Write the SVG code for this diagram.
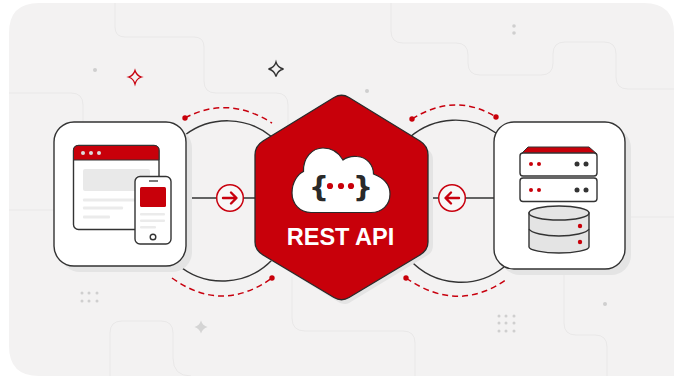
<svg xmlns="http://www.w3.org/2000/svg" width="674" height="376" viewBox="0 0 674 376">
<defs>
<style>
.grid{fill:none;stroke:#e9e8e8;stroke-width:1}
.dot{fill:#cfcfcf}
.ink{stroke:#333;stroke-width:1.4}
.wire{fill:none;stroke:#333;stroke-width:1.4}
.dash{fill:none;stroke:#c8000e;stroke-width:1.5;stroke-dasharray:6 4}
.red{fill:#c8000a}
.arrow{fill:none;stroke:#c8000e;stroke-width:2.4;stroke-linecap:round;stroke-linejoin:round}
.bar{fill:#ebebeb}
.shadow{fill:#e4e4e4}
</style>
</defs>
<rect width="674" height="376" fill="#fff"/>
<path d="M39 3H644Q674 3 674 33V376H39Q9 376 9 346V33Q9 3 39 3Z" fill="#f3f2f2"/>
<g id="background">
<path class="grid" d="M115 3V27Q115 37 125 37H194Q204 37 204 47V81Q204 93 216 93H276Q288 93 288 105V130"/>
<path class="grid" d="M9 93H71Q83 93 83 105V122"/>
<path class="grid" d="M9 210H54"/>
<path class="grid" d="M391 3V31Q391 43 403 43H456Q468 43 468 55V63Q468 75 480 75H541Q553 75 553 63V54Q553 42 565 42H604Q616 42 616 54V77Q616 89 628 89H674"/>
<path class="grid" d="M625 217H674"/>
<path class="grid" d="M564 272V323Q564 335 576 335H595Q607 335 607 347V376"/>
<path class="grid" d="M337 331H403Q415 331 415 343V376"/>
<path class="grid" d="M110 376V333Q110 321 122 321H161Q173 321 173 333V358Q173 376 191 376"/>
<path class="grid" d="M292 277V318Q292 331 305 331H337"/>
<circle class="dot" cx="95" cy="70" r="2"/>
<circle class="dot" cx="514" cy="26" r="1.8"/>
<circle class="dot" cx="514" cy="33" r="1.8"/>
<circle class="dot" cx="367" cy="91" r="2"/>
<circle class="dot" cx="605" cy="304" r="2"/>
<g class="dot"><circle cx="82" cy="293" r="1.5"/><circle cx="89" cy="293" r="1.5"/><circle cx="97" cy="293" r="1.5"/><circle cx="82" cy="301" r="1.5"/><circle cx="89" cy="301" r="1.5"/><circle cx="97" cy="301" r="1.5"/></g>
<g class="dot"><circle cx="499" cy="316" r="1.5"/><circle cx="506" cy="316" r="1.5"/><circle cx="514" cy="316" r="1.5"/><circle cx="499" cy="323" r="1.5"/><circle cx="506" cy="323" r="1.5"/><circle cx="514" cy="323" r="1.5"/><circle cx="499" cy="331" r="1.5"/><circle cx="506" cy="331" r="1.5"/><circle cx="514" cy="331" r="1.5"/></g>
<path d="M135 70.500Q136.500 75.500 141.500 77Q136.500 78.500 135 84Q133.500 78.500 128.500 77Q133.500 75.500 135 70.500Z" fill="none" stroke="#c8000e" stroke-width="1.300"/>
<path d="M276 62Q277.500 67.500 283.500 69Q277.500 70.500 276 76.500Q274.500 70.500 268.500 69Q274.500 67.500 276 62Z" fill="none" stroke="#333" stroke-width="1.300"/>
<path d="M201 320.500Q202.500 325.500 207.500 327Q202.500 328.500 201 333.500Q199.500 328.500 194.500 327Q199.500 325.500 201 320.500Z" fill="#d4d4d4"/>
</g>
<g id="connectors">
<path class="wire" d="M185 135A70 70 0 0 1 272 137"/>
<path class="wire" d="M177 264A69 69 0 0 0 272 260"/>
<path class="wire" d="M410 137A70 70 0 0 1 496 133"/>
<path class="wire" d="M410 260A69 69 0 0 0 504 267"/>
<path class="dash" d="M185 118Q228 95 272 123"/>
<path class="dash" d="M172 278Q222 314 272 278"/>
<path class="dash" d="M412 119Q455 92 496 117"/>
<path class="dash" d="M406 278Q458 314 507 279"/>
<g class="red"><circle cx="185" cy="118" r="2.700"/><circle cx="272" cy="278" r="2.700"/><circle cx="412" cy="119" r="2.700"/><circle cx="496" cy="117" r="2.700"/><circle cx="406" cy="278" r="2.700"/></g>
<path class="wire" d="M186 198H256"/>
<path class="wire" d="M427 198H494"/>
<circle cx="230" cy="198" r="13.300" fill="#f8f7f7" stroke="#c8000e" stroke-width="1.500"/>
<path class="arrow" d="M223 198H236M231 192.500L236.500 198L231 203.500"/>
<circle cx="452" cy="198" r="13.300" fill="#f8f7f7" stroke="#c8000e" stroke-width="1.500"/>
<path class="arrow" d="M459 198H446M451 192.500L445.500 198L451 203.500"/>
</g>
<g id="client">
<rect class="shadow" x="60" y="128" width="132" height="144" rx="20"/>
<rect x="54" y="122" width="132" height="144" rx="20" fill="#fff" class="ink"/>
<rect x="73.500" y="145.500" width="85.500" height="84" rx="5" fill="#fff" class="ink"/>
<path class="red" d="M78.500 145.500H154Q159 145.500 159 150.500V160H73.500V150.500Q73.500 145.500 78.500 145.500Z" stroke="#333" stroke-width="1"/>
<g fill="#ddd"><circle cx="83" cy="153" r="2"/><circle cx="91" cy="153" r="2"/><circle cx="99" cy="153" r="2"/></g>
<rect x="83" y="169" width="67" height="22" rx="2" fill="#e9e9e9"/>
<rect class="bar" x="83" y="198.500" width="52" height="3" rx="1"/>
<rect class="bar" x="83" y="206.500" width="40" height="3" rx="1"/>
<rect class="bar" x="83" y="215.500" width="27" height="3" rx="1"/>
<rect x="135" y="176.500" width="36" height="67.500" rx="5" fill="#fff" class="ink"/>
<path d="M149 181H158" stroke="#333" stroke-width="1.300"/>
<rect class="red" x="140" y="187" width="26" height="20" rx="1.500"/>
<rect class="bar" x="140" y="213" width="25" height="2.500" rx="1"/>
<rect class="bar" x="140" y="219.500" width="25" height="2.500" rx="1"/>
<rect class="bar" x="140" y="226" width="16" height="2.500" rx="1"/>
<circle cx="153" cy="237" r="2.800" fill="#fff" class="ink"/>
</g>
<g id="api">
<path class="shadow" d="M349 102L428 150Q433 153 433 160V245Q433 252 428 255L349 303Q346 305 340 303L265 257V150Z"/>
<path class="red" d="M334 97.500Q341.500 93 349 97.500L420 141Q428 146 428 155V242Q428 250 420 255L349 297.500Q341.500 302 334 297.500L263 255Q255 250 255 242V155Q255 146 263 141Z" stroke="#2a2a2a" stroke-width="1.300"/>
<path d="M311 212.500C300 212.500 292 204 292 193C292 182 298 174 303.500 171.500C303 158 312 148 323 148C332 148 339 153 343 160C347 157 352 156 357 156.500C367 157 373.500 165 373.500 174C384 178 390 185 390 194C390 205 382 212.500 371 212.500Z" fill="#fff" stroke="#2a2a2a" stroke-width="1.200"/>
<text x="319" y="197" text-anchor="middle" font-family="'DejaVu Sans','Liberation Sans',sans-serif" font-weight="700" font-size="28" fill="#2a2a2a">{</text>
<text x="363" y="197" text-anchor="middle" font-family="'DejaVu Sans','Liberation Sans',sans-serif" font-weight="700" font-size="28" fill="#2a2a2a">}</text>
<g class="red"><circle cx="330" cy="186" r="3.100"/><circle cx="341" cy="186" r="3.100"/><circle cx="351" cy="186" r="3.100"/></g>
<text x="340.500" y="245" text-anchor="middle" font-family="'Liberation Sans',Arial,sans-serif" font-weight="700" font-size="23.500" fill="#fff">REST API</text>
</g>
<g id="backend">
<rect class="shadow" x="500" y="128" width="131" height="147" rx="20"/>
<rect x="494" y="122" width="131" height="147" rx="20" fill="#fff" class="ink"/>
<path class="red" d="M528 147H589L597 154H521Z" stroke="#333" stroke-width="1"/>
<rect x="520" y="153" width="77" height="23" rx="3" fill="#fff" class="ink"/>
<rect x="520" y="178" width="77" height="23.500" rx="3" fill="#fff" class="ink"/>
<g class="red"><circle cx="531" cy="164" r="2"/><circle cx="539" cy="164" r="2"/><circle cx="531" cy="190" r="2"/><circle cx="539" cy="190" r="2"/></g>
<g fill="#333"><circle cx="577" cy="164" r="2.500"/><circle cx="586" cy="164" r="2.500"/><circle cx="577" cy="190" r="2.500"/><circle cx="586" cy="190" r="2.500"/></g>
<path d="M529 213V247C529 250 543 253 559 253C575 253 589 250 589 247V213Z" fill="#e4e4e4" class="ink"/>
<path d="M529 229C531 233 545 236 559 236C573 236 587 233 589 229" fill="none" class="ink"/>
<ellipse cx="559" cy="213" rx="30" ry="7" fill="#e4e4e4" class="ink"/>
<g class="red"><circle cx="580" cy="226" r="2.200"/><circle cx="580" cy="242" r="2.200"/></g>
</g>
</svg>
